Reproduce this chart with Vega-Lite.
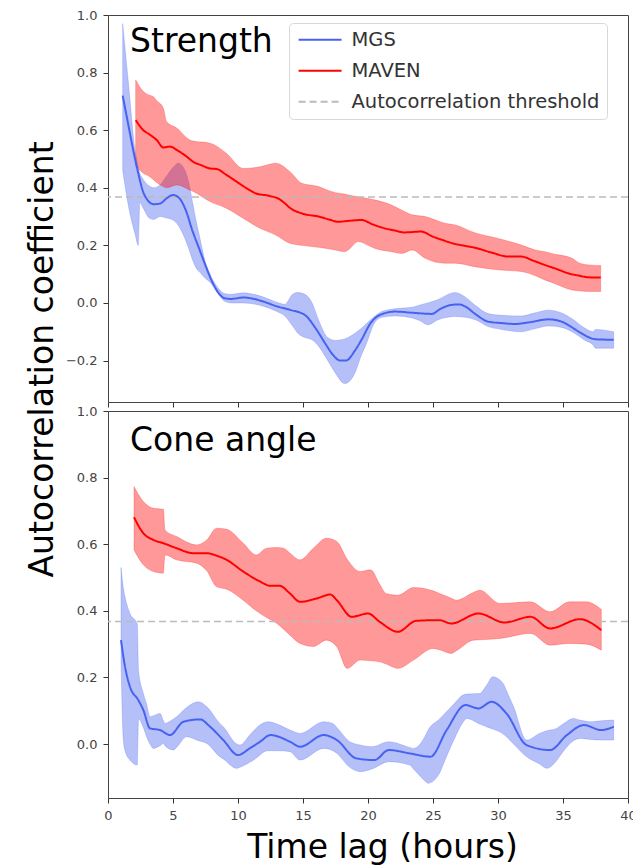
{
  "$schema": "https://vega.github.io/schema/vega-lite/v6.json",
  "autosize": {"type": "none"},
  "padding": {"left": 108, "top": 15, "right": 525, "bottom": 852},
  "background": "white",
  "bounds": "flush",
  "spacing": 9,
  "datasets": {
    "sLine": [
      {"series": "MGS", "h": 1.13, "v": 0.72}, {"series": "MGS", "h": 1.6, "v": 0.61}, {"series": "MGS", "h": 2.08, "v": 0.5}, {"series": "MGS", "h": 2.33, "v": 0.45}, {"series": "MGS", "h": 2.7, "v": 0.386}, {"series": "MGS", "h": 3.0, "v": 0.36}, {"series": "MGS", "h": 3.5, "v": 0.343}, {"series": "MGS", "h": 4.0, "v": 0.345}, {"series": "MGS", "h": 4.5, "v": 0.363}, {"series": "MGS", "h": 5.0, "v": 0.375}, {"series": "MGS", "h": 5.5, "v": 0.363}, {"series": "MGS", "h": 6.0, "v": 0.32}, {"series": "MGS", "h": 6.5, "v": 0.25}, {"series": "MGS", "h": 7.0, "v": 0.19}, {"series": "MGS", "h": 7.5, "v": 0.13}, {"series": "MGS", "h": 8.0, "v": 0.075}, {"series": "MGS", "h": 8.5, "v": 0.035}, {"series": "MGS", "h": 9.0, "v": 0.016}, {"series": "MGS", "h": 9.5, "v": 0.014}, {"series": "MGS", "h": 10.4, "v": 0.019}, {"series": "MGS", "h": 11.0, "v": 0.016}, {"series": "MGS", "h": 12.0, "v": 0.004}, {"series": "MGS", "h": 13.0, "v": -0.012}, {"series": "MGS", "h": 14.0, "v": -0.024}, {"series": "MGS", "h": 15.15, "v": -0.042}, {"series": "MGS", "h": 16.0, "v": -0.09}, {"series": "MGS", "h": 16.7, "v": -0.14}, {"series": "MGS", "h": 17.3, "v": -0.18}, {"series": "MGS", "h": 17.85, "v": -0.2}, {"series": "MGS", "h": 18.3, "v": -0.2}, {"series": "MGS", "h": 19.0, "v": -0.165}, {"series": "MGS", "h": 19.5, "v": -0.128}, {"series": "MGS", "h": 20.2, "v": -0.07}, {"series": "MGS", "h": 20.9, "v": -0.042}, {"series": "MGS", "h": 22.1, "v": -0.03}, {"series": "MGS", "h": 23.4, "v": -0.034}, {"series": "MGS", "h": 24.9, "v": -0.038}, {"series": "MGS", "h": 25.6, "v": -0.02}, {"series": "MGS", "h": 26.4, "v": -0.007}, {"series": "MGS", "h": 27.0, "v": -0.005}, {"series": "MGS", "h": 27.5, "v": -0.013}, {"series": "MGS", "h": 28.3, "v": -0.04}, {"series": "MGS", "h": 29.25, "v": -0.065}, {"series": "MGS", "h": 30.3, "v": -0.07}, {"series": "MGS", "h": 31.3, "v": -0.073}, {"series": "MGS", "h": 32.3, "v": -0.068}, {"series": "MGS", "h": 33.9, "v": -0.057}, {"series": "MGS", "h": 34.9, "v": -0.065}, {"series": "MGS", "h": 35.7, "v": -0.085}, {"series": "MGS", "h": 36.4, "v": -0.105}, {"series": "MGS", "h": 37.5, "v": -0.126}, {"series": "MGS", "h": 38.9, "v": -0.128},
      {"series": "MAVEN", "h": 2.13, "v": 0.635}, {"series": "MAVEN", "h": 2.72, "v": 0.6}, {"series": "MAVEN", "h": 3.2, "v": 0.585}, {"series": "MAVEN", "h": 3.74, "v": 0.566}, {"series": "MAVEN", "h": 4.26, "v": 0.54}, {"series": "MAVEN", "h": 4.77, "v": 0.543}, {"series": "MAVEN", "h": 5.3, "v": 0.531}, {"series": "MAVEN", "h": 6.0, "v": 0.51}, {"series": "MAVEN", "h": 6.56, "v": 0.49}, {"series": "MAVEN", "h": 7.2, "v": 0.478}, {"series": "MAVEN", "h": 7.85, "v": 0.467}, {"series": "MAVEN", "h": 8.36, "v": 0.465}, {"series": "MAVEN", "h": 9.1, "v": 0.445}, {"series": "MAVEN", "h": 9.9, "v": 0.421}, {"series": "MAVEN", "h": 10.6, "v": 0.4}, {"series": "MAVEN", "h": 11.4, "v": 0.38}, {"series": "MAVEN", "h": 12.4, "v": 0.372}, {"series": "MAVEN", "h": 13.2, "v": 0.36}, {"series": "MAVEN", "h": 13.6, "v": 0.346}, {"series": "MAVEN", "h": 14.0, "v": 0.33}, {"series": "MAVEN", "h": 14.9, "v": 0.311}, {"series": "MAVEN", "h": 16.2, "v": 0.3}, {"series": "MAVEN", "h": 17.0, "v": 0.29}, {"series": "MAVEN", "h": 17.7, "v": 0.282}, {"series": "MAVEN", "h": 18.5, "v": 0.285}, {"series": "MAVEN", "h": 19.5, "v": 0.288}, {"series": "MAVEN", "h": 20.4, "v": 0.272}, {"series": "MAVEN", "h": 21.3, "v": 0.259}, {"series": "MAVEN", "h": 22.0, "v": 0.252}, {"series": "MAVEN", "h": 22.8, "v": 0.245}, {"series": "MAVEN", "h": 24.1, "v": 0.248}, {"series": "MAVEN", "h": 24.9, "v": 0.232}, {"series": "MAVEN", "h": 25.7, "v": 0.219}, {"series": "MAVEN", "h": 26.7, "v": 0.205}, {"series": "MAVEN", "h": 27.5, "v": 0.198}, {"series": "MAVEN", "h": 28.2, "v": 0.192}, {"series": "MAVEN", "h": 29.5, "v": 0.175}, {"series": "MAVEN", "h": 30.8, "v": 0.161}, {"series": "MAVEN", "h": 31.8, "v": 0.161}, {"series": "MAVEN", "h": 32.7, "v": 0.147}, {"series": "MAVEN", "h": 33.6, "v": 0.132}, {"series": "MAVEN", "h": 34.5, "v": 0.118}, {"series": "MAVEN", "h": 35.4, "v": 0.103}, {"series": "MAVEN", "h": 36.2, "v": 0.095}, {"series": "MAVEN", "h": 36.95, "v": 0.089}, {"series": "MAVEN", "h": 37.9, "v": 0.088}
    ],
    "sBand": [
      {"series": "MGS", "h": 1.13, "lo": 0.46, "hi": 0.97}, {"series": "MGS", "h": 1.6, "lo": 0.33, "hi": 0.75}, {"series": "MGS", "h": 2.08, "lo": 0.24, "hi": 0.53}, {"series": "MGS", "h": 2.33, "lo": 0.2, "hi": 0.47}, {"series": "MGS", "h": 2.45, "lo": 0.35, "hi": 0.45}, {"series": "MGS", "h": 2.7, "lo": 0.33, "hi": 0.43}, {"series": "MGS", "h": 3.2, "lo": 0.294, "hi": 0.405}, {"series": "MGS", "h": 3.5, "lo": 0.29, "hi": 0.4}, {"series": "MGS", "h": 4.0, "lo": 0.3, "hi": 0.41}, {"series": "MGS", "h": 4.5, "lo": 0.295, "hi": 0.44}, {"series": "MGS", "h": 5.0, "lo": 0.288, "hi": 0.47}, {"series": "MGS", "h": 5.4, "lo": 0.27, "hi": 0.485}, {"series": "MGS", "h": 5.8, "lo": 0.236, "hi": 0.47}, {"series": "MGS", "h": 6.2, "lo": 0.19, "hi": 0.42}, {"series": "MGS", "h": 6.5, "lo": 0.15, "hi": 0.35}, {"series": "MGS", "h": 6.8, "lo": 0.12, "hi": 0.28}, {"series": "MGS", "h": 7.0, "lo": 0.11, "hi": 0.24}, {"series": "MGS", "h": 7.5, "lo": 0.085, "hi": 0.14}, {"series": "MGS", "h": 7.85, "lo": 0.072, "hi": 0.1}, {"series": "MGS", "h": 8.5, "lo": 0.03, "hi": 0.05}, {"series": "MGS", "h": 9.0, "lo": 0.005, "hi": 0.032}, {"series": "MGS", "h": 9.5, "lo": 0.0, "hi": 0.03}, {"series": "MGS", "h": 10.4, "lo": 0.0, "hi": 0.035}, {"series": "MGS", "h": 11.0, "lo": -0.002, "hi": 0.032}, {"series": "MGS", "h": 12.0, "lo": -0.012, "hi": 0.02}, {"series": "MGS", "h": 13.0, "lo": -0.03, "hi": 0.002}, {"series": "MGS", "h": 13.6, "lo": -0.045, "hi": -0.005}, {"series": "MGS", "h": 14.2, "lo": -0.08, "hi": 0.03}, {"series": "MGS", "h": 14.6, "lo": -0.105, "hi": 0.036}, {"series": "MGS", "h": 15.15, "lo": -0.12, "hi": 0.03}, {"series": "MGS", "h": 15.7, "lo": -0.128, "hi": 0.0}, {"series": "MGS", "h": 16.2, "lo": -0.15, "hi": -0.059}, {"series": "MGS", "h": 16.9, "lo": -0.2, "hi": -0.12}, {"series": "MGS", "h": 17.5, "lo": -0.244, "hi": -0.13}, {"series": "MGS", "h": 18.2, "lo": -0.28, "hi": -0.125}, {"series": "MGS", "h": 19.0, "lo": -0.243, "hi": -0.105}, {"series": "MGS", "h": 19.5, "lo": -0.18, "hi": -0.088}, {"series": "MGS", "h": 19.8, "lo": -0.15, "hi": -0.075}, {"series": "MGS", "h": 20.5, "lo": -0.07, "hi": -0.047}, {"series": "MGS", "h": 21.05, "lo": -0.05, "hi": -0.03}, {"series": "MGS", "h": 22.1, "lo": -0.045, "hi": -0.02}, {"series": "MGS", "h": 23.4, "lo": -0.052, "hi": -0.015}, {"series": "MGS", "h": 24.0, "lo": -0.062, "hi": -0.007}, {"series": "MGS", "h": 24.6, "lo": -0.076, "hi": 0.0}, {"series": "MGS", "h": 25.4, "lo": -0.058, "hi": 0.012}, {"series": "MGS", "h": 26.4, "lo": -0.048, "hi": 0.034}, {"series": "MGS", "h": 26.7, "lo": -0.047, "hi": 0.036}, {"series": "MGS", "h": 27.5, "lo": -0.05, "hi": 0.02}, {"series": "MGS", "h": 28.3, "lo": -0.059, "hi": -0.01}, {"series": "MGS", "h": 29.25, "lo": -0.082, "hi": -0.037}, {"series": "MGS", "h": 30.3, "lo": -0.092, "hi": -0.043}, {"series": "MGS", "h": 31.8, "lo": -0.1, "hi": -0.045}, {"series": "MGS", "h": 32.8, "lo": -0.09, "hi": -0.035}, {"series": "MGS", "h": 33.9, "lo": -0.08, "hi": -0.025}, {"series": "MGS", "h": 34.9, "lo": -0.085, "hi": -0.035}, {"series": "MGS", "h": 35.7, "lo": -0.1, "hi": -0.055}, {"series": "MGS", "h": 36.7, "lo": -0.13, "hi": -0.088}, {"series": "MGS", "h": 37.3, "lo": -0.145, "hi": -0.1}, {"series": "MGS", "h": 37.5, "lo": -0.157, "hi": -0.092}, {"series": "MGS", "h": 38.9, "lo": -0.157, "hi": -0.1},
      {"series": "MAVEN", "h": 2.13, "lo": 0.479, "hi": 0.774}, {"series": "MAVEN", "h": 2.72, "lo": 0.45, "hi": 0.734}, {"series": "MAVEN", "h": 3.0, "lo": 0.444, "hi": 0.725}, {"series": "MAVEN", "h": 3.5, "lo": 0.428, "hi": 0.716}, {"series": "MAVEN", "h": 3.7, "lo": 0.42, "hi": 0.705}, {"series": "MAVEN", "h": 4.26, "lo": 0.404, "hi": 0.676}, {"series": "MAVEN", "h": 4.5, "lo": 0.4, "hi": 0.63}, {"series": "MAVEN", "h": 5.3, "lo": 0.41, "hi": 0.607}, {"series": "MAVEN", "h": 6.3, "lo": 0.392, "hi": 0.566}, {"series": "MAVEN", "h": 6.56, "lo": 0.387, "hi": 0.562}, {"series": "MAVEN", "h": 7.85, "lo": 0.352, "hi": 0.555}, {"series": "MAVEN", "h": 9.1, "lo": 0.329, "hi": 0.52}, {"series": "MAVEN", "h": 10.4, "lo": 0.294, "hi": 0.467}, {"series": "MAVEN", "h": 11.7, "lo": 0.259, "hi": 0.473}, {"series": "MAVEN", "h": 12.9, "lo": 0.236, "hi": 0.485}, {"series": "MAVEN", "h": 14.0, "lo": 0.207, "hi": 0.456}, {"series": "MAVEN", "h": 14.9, "lo": 0.2, "hi": 0.416}, {"series": "MAVEN", "h": 16.2, "lo": 0.193, "hi": 0.404}, {"series": "MAVEN", "h": 16.7, "lo": 0.19, "hi": 0.395}, {"series": "MAVEN", "h": 17.5, "lo": 0.184, "hi": 0.383}, {"series": "MAVEN", "h": 18.2, "lo": 0.178, "hi": 0.378}, {"series": "MAVEN", "h": 18.5, "lo": 0.185, "hi": 0.375}, {"series": "MAVEN", "h": 19.25, "lo": 0.213, "hi": 0.368}, {"series": "MAVEN", "h": 20.0, "lo": 0.2, "hi": 0.363}, {"series": "MAVEN", "h": 20.5, "lo": 0.19, "hi": 0.358}, {"series": "MAVEN", "h": 21.8, "lo": 0.178, "hi": 0.34}, {"series": "MAVEN", "h": 22.6, "lo": 0.172, "hi": 0.322}, {"series": "MAVEN", "h": 23.4, "lo": 0.184, "hi": 0.306}, {"series": "MAVEN", "h": 24.4, "lo": 0.155, "hi": 0.3}, {"series": "MAVEN", "h": 25.9, "lo": 0.138, "hi": 0.277}, {"series": "MAVEN", "h": 26.7, "lo": 0.138, "hi": 0.271}, {"series": "MAVEN", "h": 28.2, "lo": 0.126, "hi": 0.244}, {"series": "MAVEN", "h": 30.0, "lo": 0.115, "hi": 0.224}, {"series": "MAVEN", "h": 31.8, "lo": 0.109, "hi": 0.201}, {"series": "MAVEN", "h": 32.85, "lo": 0.095, "hi": 0.184}, {"series": "MAVEN", "h": 33.6, "lo": 0.08, "hi": 0.178}, {"series": "MAVEN", "h": 34.1, "lo": 0.072, "hi": 0.172}, {"series": "MAVEN", "h": 35.7, "lo": 0.045, "hi": 0.155}, {"series": "MAVEN", "h": 36.2, "lo": 0.042, "hi": 0.14}, {"series": "MAVEN", "h": 37.0, "lo": 0.04, "hi": 0.132}, {"series": "MAVEN", "h": 37.9, "lo": 0.04, "hi": 0.13}
    ],
    "cLine": [
      {"series": "MGS", "h": 1.0, "v": 0.312}, {"series": "MGS", "h": 1.31, "v": 0.232}, {"series": "MGS", "h": 1.69, "v": 0.172}, {"series": "MGS", "h": 2.33, "v": 0.132}, {"series": "MGS", "h": 2.72, "v": 0.102}, {"series": "MGS", "h": 3.23, "v": 0.047}, {"series": "MGS", "h": 4.0, "v": 0.042}, {"series": "MGS", "h": 4.77, "v": 0.027}, {"series": "MGS", "h": 5.8, "v": 0.067}, {"series": "MGS", "h": 7.08, "v": 0.074}, {"series": "MGS", "h": 7.85, "v": 0.052}, {"series": "MGS", "h": 8.87, "v": 0.012}, {"series": "MGS", "h": 10.0, "v": -0.033}, {"series": "MGS", "h": 10.9, "v": -0.013}, {"series": "MGS", "h": 11.7, "v": 0.007}, {"series": "MGS", "h": 12.5, "v": 0.027}, {"series": "MGS", "h": 14.0, "v": 0.007}, {"series": "MGS", "h": 14.77, "v": -0.008}, {"series": "MGS", "h": 16.6, "v": 0.027}, {"series": "MGS", "h": 17.6, "v": 0.012}, {"series": "MGS", "h": 19.1, "v": -0.043}, {"series": "MGS", "h": 20.5, "v": -0.048}, {"series": "MGS", "h": 21.6, "v": -0.018}, {"series": "MGS", "h": 23.2, "v": -0.028}, {"series": "MGS", "h": 24.8, "v": -0.038}, {"series": "MGS", "h": 26.05, "v": 0.042}, {"series": "MGS", "h": 27.5, "v": 0.117}, {"series": "MGS", "h": 28.5, "v": 0.107}, {"series": "MGS", "h": 29.5, "v": 0.127}, {"series": "MGS", "h": 30.65, "v": 0.092}, {"series": "MGS", "h": 32.2, "v": -0.003}, {"series": "MGS", "h": 34.0, "v": -0.018}, {"series": "MGS", "h": 35.3, "v": 0.027}, {"series": "MGS", "h": 36.6, "v": 0.057}, {"series": "MGS", "h": 37.95, "v": 0.042}, {"series": "MGS", "h": 38.9, "v": 0.052},
      {"series": "MAVEN", "h": 2.0, "v": 0.681}, {"series": "MAVEN", "h": 2.72, "v": 0.633}, {"series": "MAVEN", "h": 3.49, "v": 0.613}, {"series": "MAVEN", "h": 4.26, "v": 0.603}, {"series": "MAVEN", "h": 5.28, "v": 0.588}, {"series": "MAVEN", "h": 6.56, "v": 0.573}, {"series": "MAVEN", "h": 7.6, "v": 0.573}, {"series": "MAVEN", "h": 8.4, "v": 0.565}, {"series": "MAVEN", "h": 9.13, "v": 0.553}, {"series": "MAVEN", "h": 10.4, "v": 0.518}, {"series": "MAVEN", "h": 11.7, "v": 0.488}, {"series": "MAVEN", "h": 12.5, "v": 0.475}, {"series": "MAVEN", "h": 13.2, "v": 0.475}, {"series": "MAVEN", "h": 14.0, "v": 0.452}, {"series": "MAVEN", "h": 14.77, "v": 0.427}, {"series": "MAVEN", "h": 16.05, "v": 0.437}, {"series": "MAVEN", "h": 17.1, "v": 0.449}, {"series": "MAVEN", "h": 17.6, "v": 0.432}, {"series": "MAVEN", "h": 18.75, "v": 0.382}, {"series": "MAVEN", "h": 20.0, "v": 0.392}, {"series": "MAVEN", "h": 20.9, "v": 0.367}, {"series": "MAVEN", "h": 22.3, "v": 0.337}, {"series": "MAVEN", "h": 23.7, "v": 0.37}, {"series": "MAVEN", "h": 25.5, "v": 0.372}, {"series": "MAVEN", "h": 26.4, "v": 0.362}, {"series": "MAVEN", "h": 28.5, "v": 0.392}, {"series": "MAVEN", "h": 30.5, "v": 0.365}, {"series": "MAVEN", "h": 32.5, "v": 0.382}, {"series": "MAVEN", "h": 34.0, "v": 0.347}, {"series": "MAVEN", "h": 36.3, "v": 0.375}, {"series": "MAVEN", "h": 37.95, "v": 0.342}
    ],
    "cBand": [
      {"series": "MGS", "h": 1.0, "lo": 0.25, "hi": 0.53}, {"series": "MGS", "h": 1.18, "lo": 0.012, "hi": 0.47}, {"series": "MGS", "h": 1.31, "lo": -0.02, "hi": 0.442}, {"series": "MGS", "h": 1.69, "lo": -0.048, "hi": 0.392}, {"series": "MGS", "h": 2.25, "lo": -0.063, "hi": 0.36}, {"series": "MGS", "h": 2.35, "lo": 0.075, "hi": 0.22}, {"series": "MGS", "h": 2.72, "lo": 0.05, "hi": 0.152}, {"series": "MGS", "h": 2.97, "lo": 0.022, "hi": 0.12}, {"series": "MGS", "h": 3.23, "lo": 0.0, "hi": 0.082}, {"series": "MGS", "h": 3.49, "lo": -0.013, "hi": 0.085}, {"series": "MGS", "h": 4.0, "lo": -0.005, "hi": 0.092}, {"series": "MGS", "h": 4.26, "lo": 0.002, "hi": 0.07}, {"series": "MGS", "h": 4.38, "lo": -0.005, "hi": 0.062}, {"series": "MGS", "h": 5.03, "lo": -0.018, "hi": 0.075}, {"series": "MGS", "h": 5.28, "lo": -0.01, "hi": 0.082}, {"series": "MGS", "h": 6.05, "lo": 0.022, "hi": 0.11}, {"series": "MGS", "h": 6.95, "lo": 0.01, "hi": 0.127}, {"series": "MGS", "h": 7.6, "lo": 0.002, "hi": 0.112}, {"series": "MGS", "h": 8.6, "lo": -0.038, "hi": 0.062}, {"series": "MGS", "h": 8.87, "lo": -0.045, "hi": 0.052}, {"series": "MGS", "h": 9.9, "lo": -0.073, "hi": 0.0}, {"series": "MGS", "h": 10.15, "lo": -0.07, "hi": -0.003}, {"series": "MGS", "h": 10.9, "lo": -0.055, "hi": 0.027}, {"series": "MGS", "h": 11.2, "lo": -0.048, "hi": 0.04}, {"series": "MGS", "h": 12.3, "lo": -0.02, "hi": 0.067}, {"series": "MGS", "h": 13.2, "lo": -0.02, "hi": 0.057}, {"series": "MGS", "h": 14.0, "lo": -0.023, "hi": 0.042}, {"series": "MGS", "h": 14.77, "lo": -0.048, "hi": 0.032}, {"series": "MGS", "h": 16.6, "lo": -0.013, "hi": 0.067}, {"series": "MGS", "h": 17.3, "lo": -0.02, "hi": 0.062}, {"series": "MGS", "h": 17.6, "lo": -0.028, "hi": 0.05}, {"series": "MGS", "h": 18.6, "lo": -0.07, "hi": 0.007}, {"series": "MGS", "h": 19.4, "lo": -0.083, "hi": -0.003}, {"series": "MGS", "h": 20.3, "lo": -0.075, "hi": -0.008}, {"series": "MGS", "h": 21.6, "lo": -0.053, "hi": 0.007}, {"series": "MGS", "h": 23.2, "lo": -0.063, "hi": -0.01}, {"series": "MGS", "h": 23.5, "lo": -0.075, "hi": -0.013}, {"series": "MGS", "h": 24.5, "lo": -0.115, "hi": 0.032}, {"series": "MGS", "h": 24.6, "lo": -0.118, "hi": 0.04}, {"series": "MGS", "h": 25.5, "lo": -0.088, "hi": 0.075}, {"series": "MGS", "h": 25.8, "lo": -0.06, "hi": 0.087}, {"series": "MGS", "h": 26.6, "lo": 0.012, "hi": 0.12}, {"series": "MGS", "h": 27.3, "lo": 0.065, "hi": 0.147}, {"series": "MGS", "h": 27.6, "lo": 0.077, "hi": 0.15}, {"series": "MGS", "h": 28.6, "lo": 0.06, "hi": 0.152}, {"series": "MGS", "h": 29.1, "lo": 0.052, "hi": 0.175}, {"series": "MGS", "h": 29.6, "lo": 0.045, "hi": 0.202}, {"series": "MGS", "h": 30.4, "lo": 0.03, "hi": 0.182}, {"series": "MGS", "h": 30.65, "lo": 0.022, "hi": 0.16}, {"series": "MGS", "h": 31.2, "lo": 0.0, "hi": 0.112}, {"series": "MGS", "h": 32.2, "lo": -0.038, "hi": 0.012}, {"series": "MGS", "h": 33.2, "lo": -0.06, "hi": 0.032}, {"series": "MGS", "h": 33.75, "lo": -0.073, "hi": 0.04}, {"series": "MGS", "h": 34.5, "lo": -0.05, "hi": 0.047}, {"series": "MGS", "h": 35.0, "lo": -0.023, "hi": 0.06}, {"series": "MGS", "h": 35.8, "lo": 0.01, "hi": 0.077}, {"series": "MGS", "h": 36.3, "lo": 0.017, "hi": 0.072}, {"series": "MGS", "h": 37.1, "lo": 0.014, "hi": 0.067}, {"series": "MGS", "h": 37.95, "lo": 0.012, "hi": 0.07}, {"series": "MGS", "h": 38.9, "lo": 0.012, "hi": 0.072},
      {"series": "MAVEN", "h": 2.0, "lo": 0.583, "hi": 0.773}, {"series": "MAVEN", "h": 2.72, "lo": 0.538, "hi": 0.728}, {"series": "MAVEN", "h": 3.49, "lo": 0.518, "hi": 0.708}, {"series": "MAVEN", "h": 4.26, "lo": 0.513, "hi": 0.705}, {"series": "MAVEN", "h": 4.38, "lo": 0.568, "hi": 0.643}, {"series": "MAVEN", "h": 5.28, "lo": 0.553, "hi": 0.623}, {"series": "MAVEN", "h": 6.82, "lo": 0.543, "hi": 0.598}, {"series": "MAVEN", "h": 7.6, "lo": 0.52, "hi": 0.613}, {"series": "MAVEN", "h": 8.36, "lo": 0.472, "hi": 0.648}, {"series": "MAVEN", "h": 9.13, "lo": 0.465, "hi": 0.645}, {"series": "MAVEN", "h": 10.4, "lo": 0.432, "hi": 0.603}, {"series": "MAVEN", "h": 11.4, "lo": 0.4, "hi": 0.568}, {"series": "MAVEN", "h": 12.2, "lo": 0.38, "hi": 0.588}, {"series": "MAVEN", "h": 13.0, "lo": 0.362, "hi": 0.59}, {"series": "MAVEN", "h": 13.5, "lo": 0.345, "hi": 0.588}, {"series": "MAVEN", "h": 14.0, "lo": 0.327, "hi": 0.573}, {"series": "MAVEN", "h": 14.77, "lo": 0.302, "hi": 0.553}, {"series": "MAVEN", "h": 15.8, "lo": 0.293, "hi": 0.588}, {"series": "MAVEN", "h": 16.8, "lo": 0.312, "hi": 0.618}, {"series": "MAVEN", "h": 17.6, "lo": 0.292, "hi": 0.608}, {"series": "MAVEN", "h": 18.4, "lo": 0.227, "hi": 0.555}, {"series": "MAVEN", "h": 19.4, "lo": 0.252, "hi": 0.518}, {"series": "MAVEN", "h": 20.2, "lo": 0.25, "hi": 0.523}, {"series": "MAVEN", "h": 20.9, "lo": 0.247, "hi": 0.48}, {"series": "MAVEN", "h": 21.4, "lo": 0.24, "hi": 0.452}, {"series": "MAVEN", "h": 22.3, "lo": 0.227, "hi": 0.447}, {"series": "MAVEN", "h": 23.5, "lo": 0.252, "hi": 0.47}, {"series": "MAVEN", "h": 25.0, "lo": 0.287, "hi": 0.46}, {"series": "MAVEN", "h": 25.5, "lo": 0.283, "hi": 0.452}, {"series": "MAVEN", "h": 26.4, "lo": 0.272, "hi": 0.438}, {"series": "MAVEN", "h": 26.8, "lo": 0.28, "hi": 0.432}, {"series": "MAVEN", "h": 28.1, "lo": 0.312, "hi": 0.455}, {"series": "MAVEN", "h": 28.6, "lo": 0.313, "hi": 0.462}, {"series": "MAVEN", "h": 30.15, "lo": 0.317, "hi": 0.422}, {"series": "MAVEN", "h": 32.5, "lo": 0.332, "hi": 0.427}, {"series": "MAVEN", "h": 34.0, "lo": 0.297, "hi": 0.397}, {"series": "MAVEN", "h": 35.5, "lo": 0.302, "hi": 0.427}, {"series": "MAVEN", "h": 36.8, "lo": 0.3, "hi": 0.427}, {"series": "MAVEN", "h": 37.95, "lo": 0.282, "hi": 0.404}
    ],
    "thr": [{"series": "Autocorrelation threshold", "v": 0.3679}]
  },
  "resolve": {"scale": {"x": "independent", "y": "independent", "color": "independent", "strokeDash": "independent", "fill": "independent", "stroke": "independent"}},
  "vconcat": [
    {
      "width": 520,
      "height": 387,
      "title": {"text": "Strength", "anchor": "start", "frame": "group", "orient": "top", "offset": -76, "baseline": "alphabetic", "dx": 22, "fontSize": 33, "font": "DejaVu Sans", "fontWeight": "normal", "color": "#000"},
      "layer": [
        {
          "data": {"name": "sBand"},
          "mark": {"type": "area", "interpolate": "monotone", "fillOpacity": 0.4, "strokeOpacity": 0.3, "strokeWidth": 0.8},
          "encoding": {
            "x": {"field": "h", "type": "quantitative", "scale": {"domain": [0, 40], "nice": false, "zero": false}, "axis": {"values": [0, 5, 10, 15, 20, 25, 30, 35, 40], "labels": false, "title": null}},
            "y": {"field": "lo", "type": "quantitative", "scale": {"domain": [-0.344, 1.0], "nice": false, "zero": false}, "axis": {"values": [-0.2, 0, 0.2, 0.4, 0.6, 0.8, 1.0], "format": ".1f", "title": "Autocorrelation coefficient", "titleX": -56, "titleY": 344, "titleAngle": -90, "titleAlign": "center", "titleBaseline": "alphabetic"}},
            "y2": {"field": "hi"},
            "fill": {"field": "series", "type": "nominal", "scale": {"domain": ["MGS", "MAVEN"], "range": ["#4762f0", "#ff0000"]}, "legend": null},
            "stroke": {"field": "series", "type": "nominal", "scale": {"domain": ["MGS", "MAVEN"], "range": ["#4762f0", "#ff0000"]}, "legend": null}
          }
        },
        {
          "data": {"name": "thr"},
          "mark": {"type": "rule", "strokeWidth": 1.5},
          "encoding": {
            "y": {"field": "v", "type": "quantitative"},
            "color": {"field": "series", "type": "nominal"},
            "strokeDash": {"field": "series", "type": "nominal"}
          }
        },
        {
          "data": {"name": "sLine"},
          "mark": {"type": "line", "interpolate": "monotone", "strokeWidth": 2},
          "encoding": {
            "x": {"field": "h", "type": "quantitative"},
            "y": {"field": "v", "type": "quantitative"},
            "color": {"field": "series", "type": "nominal", "scale": {"domain": ["MGS", "MAVEN", "Autocorrelation threshold"], "range": ["#4762f0", "#ff0000", "#bbbbbb"]}, "legend": {"orient": "none", "legendX": 181, "legendY": 8, "title": null, "symbolType": "M-1,0H5", "symbolSize": 205, "symbolStrokeWidth": 2, "labelFontSize": 19.5, "labelFont": "DejaVu Sans", "labelColor": "#333", "labelOffset": 36, "labelLimit": 400, "padding": 7, "rowPadding": 10, "fillColor": "white", "strokeColor": "#d8d8d8", "cornerRadius": 4}},
            "strokeDash": {"field": "series", "type": "nominal", "scale": {"domain": ["MGS", "MAVEN", "Autocorrelation threshold"], "range": [[1, 0], [1, 0], [7, 4]]}}
          }
        }
      ]
    },
    {
      "width": 520,
      "height": 387,
      "title": {"text": "Cone angle", "anchor": "start", "frame": "group", "orient": "top", "offset": -79, "baseline": "alphabetic", "dx": 22, "fontSize": 33, "font": "DejaVu Sans", "fontWeight": "normal", "color": "#000"},
      "layer": [
        {
          "data": {"name": "cBand"},
          "mark": {"type": "area", "interpolate": "monotone", "fillOpacity": 0.4, "strokeOpacity": 0.3, "strokeWidth": 0.8},
          "encoding": {
            "x": {"field": "h", "type": "quantitative", "scale": {"domain": [0, 40], "nice": false, "zero": false}, "axis": {"values": [0, 5, 10, 15, 20, 25, 30, 35, 40], "format": "d", "title": "Time lag (hours)", "titleX": 274, "titleY": 59, "titleAlign": "center", "titleBaseline": "alphabetic"}},
            "y": {"field": "lo", "type": "quantitative", "scale": {"domain": [-0.162, 1.0], "nice": false, "zero": false}, "axis": {"values": [0, 0.2, 0.4, 0.6, 0.8, 1.0], "format": ".1f", "title": null}},
            "y2": {"field": "hi"},
            "fill": {"field": "series", "type": "nominal", "scale": {"domain": ["MGS", "MAVEN"], "range": ["#4762f0", "#ff0000"]}, "legend": null},
            "stroke": {"field": "series", "type": "nominal", "scale": {"domain": ["MGS", "MAVEN"], "range": ["#4762f0", "#ff0000"]}, "legend": null}
          }
        },
        {
          "data": {"name": "thr"},
          "mark": {"type": "rule", "strokeWidth": 1.5},
          "encoding": {
            "y": {"field": "v", "type": "quantitative"},
            "color": {"field": "series", "type": "nominal", "legend": null},
            "strokeDash": {"field": "series", "type": "nominal", "legend": null}
          }
        },
        {
          "data": {"name": "cLine"},
          "mark": {"type": "line", "interpolate": "monotone", "strokeWidth": 2},
          "encoding": {
            "x": {"field": "h", "type": "quantitative"},
            "y": {"field": "v", "type": "quantitative"},
            "color": {"field": "series", "type": "nominal", "scale": {"domain": ["MGS", "MAVEN", "Autocorrelation threshold"], "range": ["#4762f0", "#ff0000", "#bbbbbb"]}, "legend": null},
            "strokeDash": {"field": "series", "type": "nominal", "scale": {"domain": ["MGS", "MAVEN", "Autocorrelation threshold"], "range": [[1, 0], [1, 0], [7, 4]]}, "legend": null}
          }
        }
      ]
    }
  ],
  "config": {
    "view": {"stroke": "#444", "strokeWidth": 1},
    "axis": {"domain": false, "grid": false, "tickColor": "#333", "tickSize": 5, "tickWidth": 1, "labelFont": "DejaVu Sans", "labelFontSize": 13, "labelColor": "#444", "labelPadding": 6, "titleFont": "DejaVu Sans", "titleFontSize": 33, "titleFontWeight": "normal", "titleColor": "#000", "labelFlush": false, "labelOverlap": false}
  }
}
